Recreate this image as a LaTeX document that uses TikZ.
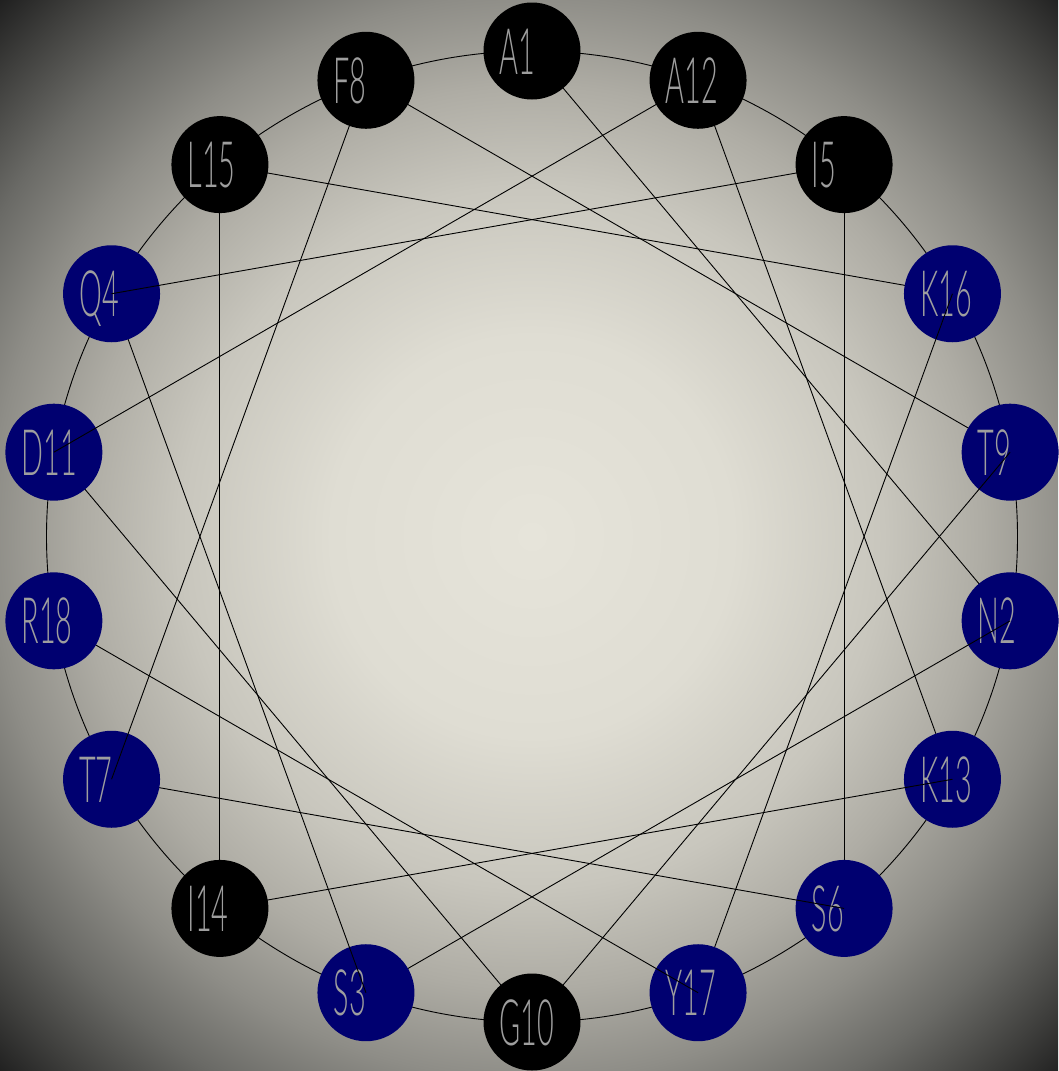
\documentclass[tikz,border=0pt]{standalone}
\usepackage{fontspec}
\setmainfont{Lato}[UprightFont=* Light,FakeStretch=0.45]
\definecolor{polarblue}{RGB}{0,0,112}
\definecolor{labelgray}{RGB}{158,158,158}
\definecolor{bga}{RGB}{230,228,218}
\definecolor{bgb}{RGB}{223,221,211}
\definecolor{bgc}{RGB}{200,198,189}
\definecolor{bgd}{RGB}{174,172,164}
\definecolor{bge}{RGB}{142,141,135}
\definecolor{bgf}{RGB}{106,106,102}
\definecolor{bgg}{RGB}{62,62,60}
\definecolor{bgh}{RGB}{28,28,28}
\pgfdeclareradialshading{bgshade}{\pgfpoint{0bp}{0bp}}{color(0bp)=(bga); color(200bp)=(bgb); color(350bp)=(bgc); color(450bp)=(bgd); color(540bp)=(bge); color(620bp)=(bgf); color(700bp)=(bgg); color(760bp)=(bgh)}
\begin{document}
\begin{tikzpicture}[x=1pt,y=-1pt,
  resnode/.style={circle,minimum size=97pt,inner sep=0pt,outer sep=0pt},
  polar/.style={resnode,fill=polarblue},
  apolar/.style={resnode,fill=black},
  lbl/.style={text=labelgray,font=\fontsize{64pt}{64pt}\selectfont,inner sep=0pt,text height=46pt,text depth=0pt,anchor=west},
  conn/.style={line width=0.9pt,draw=black},
  ring/.style={line width=0.9pt,draw=black}]
\useasboundingbox (0,0) rectangle (1058,1071);
\begin{scope}
  \clip (0,0) rectangle (1058,1071);
  \node[inner sep=0pt,outer sep=0pt] (bg) at (532,536.5) {\pgfuseshading{bgshade}};
\end{scope}
\draw[ring] (532,536.5) circle[radius=485.5];
\foreach \k in {1,...,18}{
  \pgfmathsetmacro\ang{mod((\k-1)*100,360)}
  \coordinate (p\k) at ({532+485.5*sin(\ang)},{536.5-485.5*cos(\ang)});
}
\foreach \k/\name/\pol in {1/A1/0,2/N2/1,3/S3/1,4/Q4/1,5/I5/0,6/S6/1,7/T7/1,8/F8/0,9/T9/1,10/G10/0,11/D11/1,12/A12/0,13/K13/1,14/I14/0,15/L15/0,16/K16/1,17/Y17/1,18/R18/1}{
  \ifnum\pol=1
    \node[polar] (n\k) at (p\k) {};
    \node[lbl] (t\k) at ([xshift=-32.5pt]n\k.center) {\name};
  \fi
  \ifnum\k<18
    \pgfmathtruncatemacro\nxt{\k+1}
    \draw[conn] (p\k) -- (p\nxt);
  \fi
}
\foreach \k/\name in {1/A1,5/I5,8/F8,10/G10,12/A12,14/I14,15/L15}{
  \node[apolar] (n\k) at (p\k) {};
  \node[lbl] (t\k) at ([xshift=-32.5pt]n\k.center) {\name};
}
\end{tikzpicture}
\end{document}
